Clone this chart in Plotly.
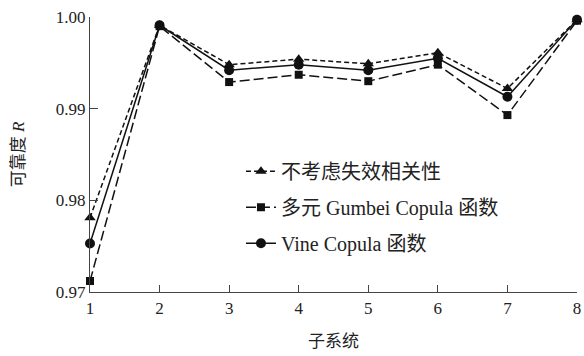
import plotly.graph_objects as go

# Subsystem index and reliability for each dependence model
subsystems = [1, 2, 3, 4, 5, 6, 7, 8]
r_independent = [0.9781, 0.9991, 0.9948, 0.9954, 0.9949, 0.9961, 0.9922, 0.9997]
r_gumbel = [0.9712, 0.9990, 0.9929, 0.9937, 0.9930, 0.9948, 0.9893, 0.9996]
r_vine = [0.9753, 0.9991, 0.9942, 0.9948, 0.9942, 0.9955, 0.9913, 0.9997]

names = ["不考虑失效相关性", "多元 Gumbei Copula 函数", "Vine Copula 函数"]
y_ticks = [0.97, 0.98, 0.99, 1.00]
y_tick_text = ["0.97", "0.98", "0.99", "1.00"]

serif = "Liberation Serif, Noto Sans CJK SC, serif"

fig = go.Figure()
fig.add_trace(go.Scatter(
    x=subsystems, y=r_independent, name=names[0], mode="lines+markers",
    legendgroup="a",
    line=dict(color="#111", width=1.5, dash="5px,3px"),
    marker=dict(symbol="triangle-up", size=10, color="#111"),
    cliponaxis=False,
))
fig.add_trace(go.Scatter(
    x=subsystems, y=r_gumbel, name=names[1], mode="lines+markers",
    legendgroup="b",
    line=dict(color="#111", width=1.5, dash="10px,4px"),
    marker=dict(symbol="square", size=8, color="#111"),
    cliponaxis=False,
))
fig.add_trace(go.Scatter(
    x=subsystems, y=r_vine, name=names[2], mode="lines+markers",
    legendgroup="c",
    line=dict(color="#111", width=1.5),
    marker=dict(symbol="circle", size=10, color="#111"),
    cliponaxis=False,
))

fig.update_layout(
    width=584, height=356,
    margin=dict(l=90, r=3, t=17, b=64),
    paper_bgcolor="white", plot_bgcolor="white",
    font=dict(family=serif, size=17, color="#222"),
    showlegend=True,
    legend=dict(
        x=0.31, y=0.51, xanchor="left", yanchor="top",
        bgcolor="rgba(0,0,0,0)", font=dict(size=20, family=serif),
        itemwidth=30, tracegroupgap=7,
    ),
)
fig.update_xaxes(
    range=[1, 8], tickvals=subsystems, ticks="inside", ticklen=7,
    tickcolor="#444", showline=True, linecolor="#444", linewidth=1.2,
    showgrid=False, zeroline=False, ticklabeloverflow="allow",
    title=dict(text="子系统", font=dict(size=17), standoff=18),
)
fig.update_yaxes(
    range=[0.97, 1.00], tickvals=y_ticks, ticktext=y_tick_text,
    ticks="inside", ticklen=8, tickcolor="#444",
    showline=True, linecolor="#444", linewidth=1.2,
    showgrid=False, zeroline=False,
    title=dict(text="可靠度 <i>R</i>", font=dict(size=17), standoff=26),
)

fig.write_html("out.html")
